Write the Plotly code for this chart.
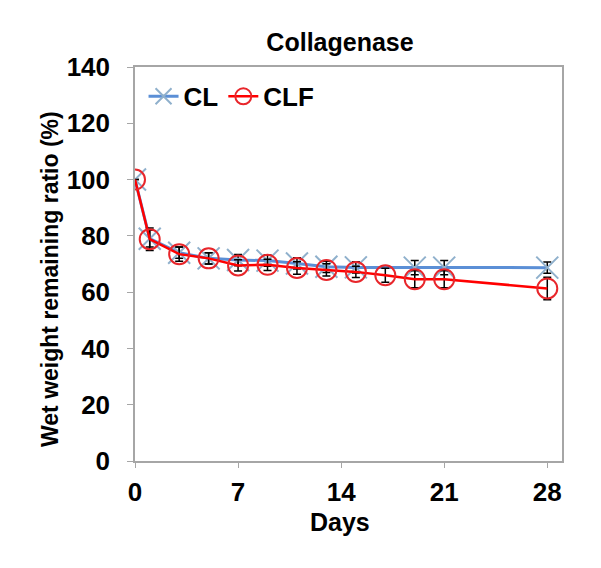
import plotly.graph_objects as go

days_cl = [0, 1, 3, 5, 7, 9, 11, 13, 15, 19, 21, 28]
cl = [100, 79, 74, 72, 71.4, 71.2, 70.2, 69, 68.8, 68.7, 68.7, 68.7]
cl_err = [0, 3, 2, 2, 2, 2, 2, 2, 2, 2.5, 2.5, 2]

days_clf = [0, 1, 3, 5, 7, 9, 11, 13, 15, 17, 19, 21, 28]
clf = [100, 78.8, 73.5, 72, 69.5, 69.7, 68.6, 67.9, 67.2, 66, 64.6, 64.6, 61.3]
clf_err = [0, 4, 2.5, 2, 2, 2, 2.2, 2.2, 2, 2.5, 3, 3, 4]

x_ticks = [0, 7, 14, 21, 28]
y_ticks = [0, 20, 40, 60, 80, 100, 120, 140]

bold = dict(family="Liberation Sans, Arial, sans-serif", color="black", weight="bold")

fig = go.Figure()
fig.add_trace(go.Scatter(
    x=days_cl, y=cl, name="CL", mode="lines+markers",
    line=dict(color="#5b8fd6", width=3),
    marker=dict(symbol="x-thin", size=22, line=dict(color="#8fb0cc", width=2)),
    error_y=dict(type="data", array=cl_err, color="black", thickness=1.5, width=4),
))
fig.add_trace(go.Scatter(
    x=days_clf, y=clf, name="CLF", mode="lines+markers",
    line=dict(color="#ff0000", width=2.5),
    marker=dict(symbol="circle-open", size=20, color="#e8262b", line=dict(color="#e8262b", width=2)),
    error_y=dict(type="data", array=clf_err, color="black", thickness=1.5, width=4),
))

fig.update_layout(
    width=601, height=568,
    margin=dict(l=127, r=47, t=59, b=115),
    paper_bgcolor="white", plot_bgcolor="white",
    title=dict(text="Collagenase", x=(340 - 8) / 601, xanchor="center", xref="container",
               y=1 - 34 / 568, yref="container", yanchor="middle",
               font=dict(size=25, **bold)),
    showlegend=True,
    legend=dict(orientation="h", x=0.02, y=0.985, xanchor="left", yanchor="top",
                font=dict(size=26, **bold), bgcolor="rgba(0,0,0,0)",
                itemwidth=30, tracegroupgap=0),
    annotations=[
        dict(text="Days", xref="paper", yref="paper", x=0.480, y=(453 - 514) / 394,
             xanchor="center", yanchor="middle", showarrow=False,
             font=dict(size=25, **bold)),
        dict(text="Wet weight remaining ratio (%)", xref="paper", yref="paper",
             x=(42 - 127) / 427, y=0.462, xanchor="center", yanchor="middle",
             textangle=-90, showarrow=False, font=dict(size=23, **bold)),
    ],
)
fig.update_xaxes(
    range=[0, 29], tickvals=x_ticks, ticktext=[str(t) for t in x_ticks],
    showgrid=False, zeroline=False, showline=True, linecolor="#a6a6a6", linewidth=1.5,
    mirror=True, ticks="outside", ticklen=5, tickcolor="#a6a6a6",
    tickfont=dict(size=26, **bold), ticklabelstandoff=2,
)
fig.update_yaxes(
    range=[0, 140], tickvals=y_ticks,
    showgrid=False, zeroline=False, showline=True, linecolor="#a6a6a6", linewidth=1.5,
    mirror=True, ticks="outside", ticklen=6, tickcolor="#a6a6a6",
    tickfont=dict(size=26, **bold), ticklabelstandoff=12,
)
fig.write_html("out.html")
